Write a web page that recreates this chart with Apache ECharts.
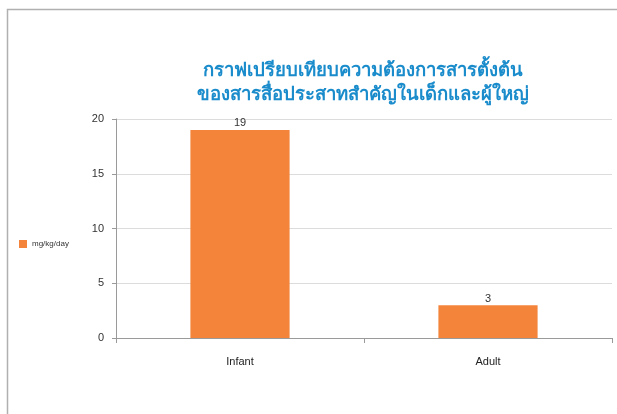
<!DOCTYPE html>
<html><head><meta charset="utf-8">
<script src="https://cdn.jsdelivr.net/npm/echarts@6/dist/echarts.min.js"></script>
<style>html,body{margin:0;padding:0;background:#fff}#c{width:617px;height:414px}</style>
</head><body><div id="c"></div>
<script>
const categories = ['Infant', 'Adult'];
const values = [19, 3];
const seriesName = 'mg/kg/day';
const titleLines = ['กราฟเปรียบเทียบความต้องการสารตั้งต้น', 'ของสารสื่อประสาทสำคัญในเด็กและผู้ใหญ่'];

const chart = echarts.init(document.getElementById('c'));
chart.setOption({
  backgroundColor: '#fff',
  animation: false,
  title: {
    text: titleLines.join('\n'),
    left: 358, top: 54, textAlign: 'center',
    textStyle: {fontFamily: 'Noto Sans', fontSize: 18.5, fontWeight: 'bold', color: '#1a8ccb', lineHeight: 24}
  },
  legend: {
    orient: 'vertical', left: 14, top: 235,
    itemWidth: 8, itemHeight: 8, itemGap: 4,
    textStyle: {fontFamily: 'Liberation Sans', fontSize: 8, color: '#333'},
    data: [{name: seriesName, icon: 'rect'}]
  },
  graphic: [
    {type: 'polyline', shape: {points: [[7.5, 414], [7.5, 9.5], [617, 9.5]]}, style: {stroke: '#b0b0b0', lineWidth: 1.5, fill: null}}
  ],
  grid: {left: 116, right: 5, top: 119, bottom: 76},
  xAxis: {
    type: 'category', data: categories,
    axisLine: {lineStyle: {color: '#9a9a9a'}},
    axisTick: {show: true, length: 5, lineStyle: {color: '#9a9a9a'}},
    axisLabel: {fontFamily: 'Liberation Sans', fontSize: 11, color: '#222', margin: 18}
  },
  yAxis: {
    type: 'value', min: 0, max: 20, interval: 5,
    axisLine: {show: true, lineStyle: {color: '#9a9a9a'}},
    axisTick: {show: true, length: 4, lineStyle: {color: '#9a9a9a'}},
    splitLine: {lineStyle: {color: '#dcdcdc'}},
    axisLabel: {fontFamily: 'Liberation Sans', fontSize: 11, color: '#333', margin: 12}
  },
  series: [{
    name: seriesName, type: 'bar', data: values, barWidth: '40%',
    itemStyle: {color: '#f4843a'},
    label: {show: true, position: 'top', distance: 1, fontFamily: 'Liberation Sans', fontSize: 11, color: '#333'}
  }]
});
</script></body></html>
